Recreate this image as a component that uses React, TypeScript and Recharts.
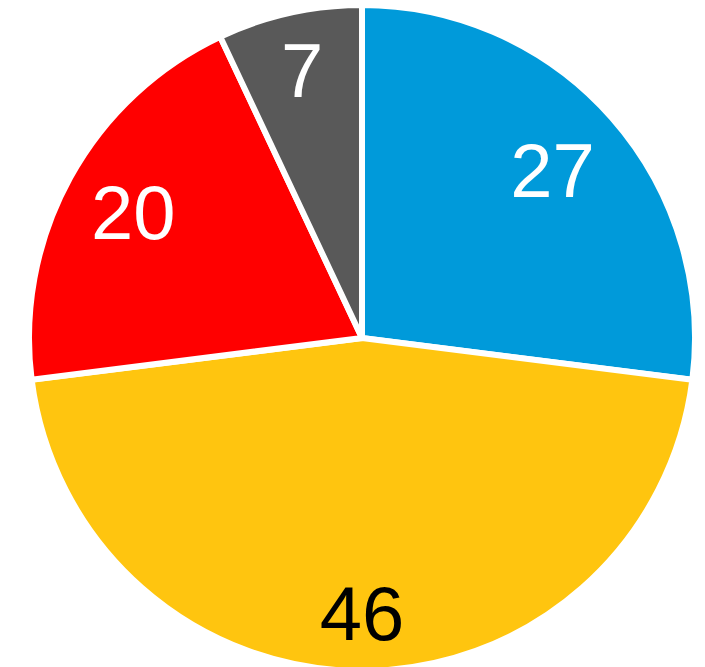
import { PieChart, Pie, Cell } from "recharts";

const categories = ["Blue", "Yellow", "Red", "Gray"];
const values = [27, 46, 20, 7];
const colors = ["#009ADA", "#FFC50F", "#FF0000", "#595959"];
const labelColors = ["#FFFFFF", "#000000", "#FFFFFF", "#FFFFFF"];
// label distance from centre per slice
const labelRadius = [254, 275, 261, 274];

const data = categories.map((name, i) => ({ name, value: values[i] }));

const RAD = Math.PI / 180;

const renderLabel = (props: any) => {
  const { cx, cy, midAngle, index, value } = props;
  const r = labelRadius[index];
  const x = cx + r * Math.cos(-midAngle * RAD);
  const y = cy + r * Math.sin(-midAngle * RAD);
  return (
    <text
      x={x}
      y={y}
      fill={labelColors[index]}
      textAnchor="middle"
      dominantBaseline="central"
      fontSize={76}
      fontFamily="Liberation Sans, Arial, sans-serif"
    >
      {value}
    </text>
  );
};

export default function App() {
  return (
    <div style={{ position: "absolute", left: 0, top: 0, width: 705, height: 667, background: "#fff" }}>
      <PieChart width={705} height={667} margin={{ top: 0, right: 0, bottom: 0, left: 0 }}>
        <Pie
          data={data}
          dataKey="value"
          nameKey="name"
          cx={362}
          cy={338}
          outerRadius={333}
          startAngle={90}
          endAngle={-270}
          stroke="#FFFFFF"
          strokeWidth={6}
          label={renderLabel}
          labelLine={false}
          isAnimationActive={false}
        >
          {data.map((d, i) => (
            <Cell key={d.name} fill={colors[i]} />
          ))}
        </Pie>
      </PieChart>
    </div>
  );
}
